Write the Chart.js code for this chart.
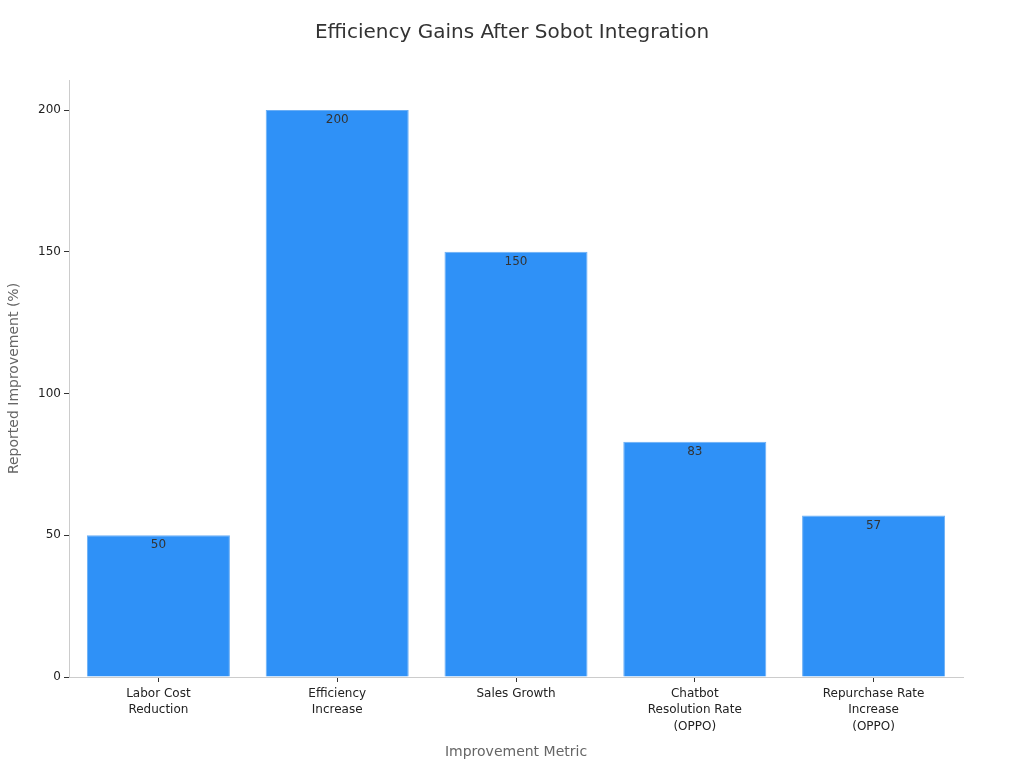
<!DOCTYPE html>
<html>
<head>
<meta charset="utf-8">
<script src="https://cdn.jsdelivr.net/npm/chart.js@4/dist/chart.umd.min.js"></script>
<style>
  html, body { margin: 0; padding: 0; background: #fff; }
  #wrap { width: 1024px; height: 768px; }
</style>
</head>
<body>
<div id="wrap"><canvas id="chart"></canvas></div>
<script>
// data
const categories = [
  ['Labor Cost', 'Reduction'],
  ['Efficiency', 'Increase'],
  ['Sales Growth'],
  ['Chatbot', 'Resolution Rate', '(OPPO)'],
  ['Repurchase Rate', 'Increase', '(OPPO)']
];
const improvements = [50, 200, 150, 83, 57];
const yTicks = [0, 50, 100, 150, 200];
const chartTitle = 'Efficiency Gains After Sobot Integration';

const FONT = "'DejaVu Sans', sans-serif";

// title centred on the whole canvas, not the plot
const pageTitle = {
  id: 'pageTitle',
  afterDraw(chart) {
    const ctx = chart.ctx;
    ctx.save();
    ctx.font = '20px ' + FONT;
    ctx.fillStyle = '#333';
    ctx.textAlign = 'center';
    ctx.textBaseline = 'middle';
    ctx.fillText(chartTitle, chart.width / 2, 33);
    ctx.restore();
  }
};

// draws the value inside the top of each bar
const valueLabels = {
  id: 'valueLabels',
  afterDatasetsDraw(chart) {
    const ctx = chart.ctx;
    const meta = chart.getDatasetMeta(0);
    ctx.save();
    ctx.font = '12px ' + FONT;
    ctx.fillStyle = '#333';
    ctx.textAlign = 'center';
    ctx.textBaseline = 'top';
    meta.data.forEach((bar, i) => {
      ctx.fillText(String(improvements[i]), bar.x, bar.y + 4);
    });
    ctx.restore();
  }
};

new Chart(document.getElementById('chart'), {
  type: 'bar',
  data: {
    labels: categories,
    datasets: [{
      data: improvements,
      backgroundColor: '#2F91F7',
      borderColor: '#6AAEF5',
      borderWidth: 1,
      categoryPercentage: 0.8,
      barPercentage: 1.0
    }]
  },
  options: {
    responsive: true,
    maintainAspectRatio: false,
    animation: false,
    layout: { padding: { left: 0, right: 61, top: 80, bottom: 0 } },
    plugins: {
      legend: { display: false },
      tooltip: { enabled: false },
      title: { display: false }
    },
    scales: {
      x: {
        grid: { display: true, drawOnChartArea: false, offset: false, color: '#333', tickLength: 5 },
        border: { color: '#ccc' },
        ticks: { color: '#222', font: { family: FONT, size: 12, lineHeight: 1.35 }, padding: 4, maxRotation: 0, autoSkip: false },
        title: {
          display: true,
          text: 'Improvement Metric',
          color: '#666',
          font: { family: FONT, size: 14 },
          padding: { top: 12, bottom: 7 }
        },
        afterFit(scale) { scale.height = 91; }
      },
      y: {
        min: 0,
        max: 210.6,
        grid: { display: true, drawOnChartArea: false, color: '#333', tickLength: 5 },
        border: { color: '#ccc' },
        ticks: { color: '#222', font: { family: FONT, size: 12 }, padding: 3, stepSize: 50 },
        afterBuildTicks(scale) { scale.ticks = yTicks.map(v => ({ value: v })); },
        title: {
          display: true,
          text: 'Reported Improvement (%)',
          color: '#666',
          font: { family: FONT, size: 14 },
          padding: { top: 6, bottom: 0 }
        },
        afterFit(scale) { scale.width = 69; }
      }
    }
  },
  plugins: [valueLabels, pageTitle]
});
</script>
</body>
</html>
